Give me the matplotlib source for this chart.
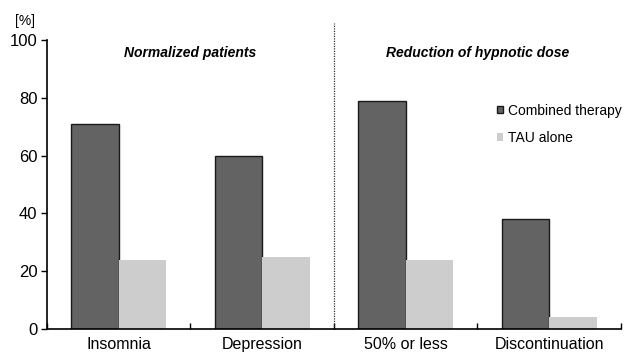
import matplotlib.pyplot as plt
import numpy as np

plt.rcParams['font.family'] = ['Liberation Sans', 'DejaVu Sans']

categories = ["Insomnia", "Depression", "50% or less", "Discontinuation"]
combined = [71, 60, 79, 38]
tau_alone = [24, 25, 24, 4]
series_names = ["Combined therapy", "TAU alone"]
panel_titles = ["Normalized patients", "Reduction of hypnotic dose"]
y_ticks = [0, 20, 40, 60, 80, 100]

fig = plt.figure(figsize=(6.24, 3.53), dpi=100)
ax = fig.add_axes([47 / 624, 24 / 353, 574 / 624, 289 / 353])

x = np.arange(len(categories))
w = 0.33
ax.bar(x - w / 2, combined, w, color='#636363', edgecolor='#1a1a1a',
       linewidth=1.0, label=series_names[0])
ax.bar(x + w / 2, tau_alone, w, color='#cdcdcd', edgecolor='none',
       label=series_names[1])

ax.set_xlim(-0.5, len(categories) - 0.5)
ax.set_ylim(0, 100)
ax.set_yticks(y_ticks)
ax.tick_params(axis='y', direction='out', length=4, width=1, labelsize=12, pad=3)

# category labels sit between the boundary ticks
ax.set_xticks(x)
ax.set_xticklabels(categories, fontsize=11.5)
ax.tick_params(axis='x', which='major', length=0, pad=6)
ax.set_xticks(np.arange(len(categories) + 1) - 0.5, minor=True)
ax.tick_params(axis='x', which='minor', direction='in', length=4, width=1)

for side in ('top', 'right'):
    ax.spines[side].set_visible(False)
ax.spines['left'].set_linewidth(1.2)
ax.spines['bottom'].set_linewidth(1.2)

# dotted divider between the two panels
ax.plot([1.5, 1.5], [0, 106], color='#333333', linestyle=(0, (1, 1)),
        linewidth=0.9, clip_on=False)

ax.text(0.5, 95.5, panel_titles[0], ha='center', va='center', fontsize=10,
        fontweight='bold', fontstyle='italic')
ax.text(2.5, 95.5, panel_titles[1], ha='center', va='center', fontsize=10,
        fontweight='bold', fontstyle='italic')

ax.text(-0.038, 1.066, "[%]", transform=ax.transAxes, ha='center', va='center',
        fontsize=10)

ax.legend(loc='upper left', bbox_to_anchor=(0.784, 0.78), frameon=False,
          fontsize=10, handlelength=0.45, handleheight=0.45, handletextpad=0.35,
          labelspacing=0.95, borderaxespad=0, borderpad=0)

fig.savefig('out.png', dpi=100)
